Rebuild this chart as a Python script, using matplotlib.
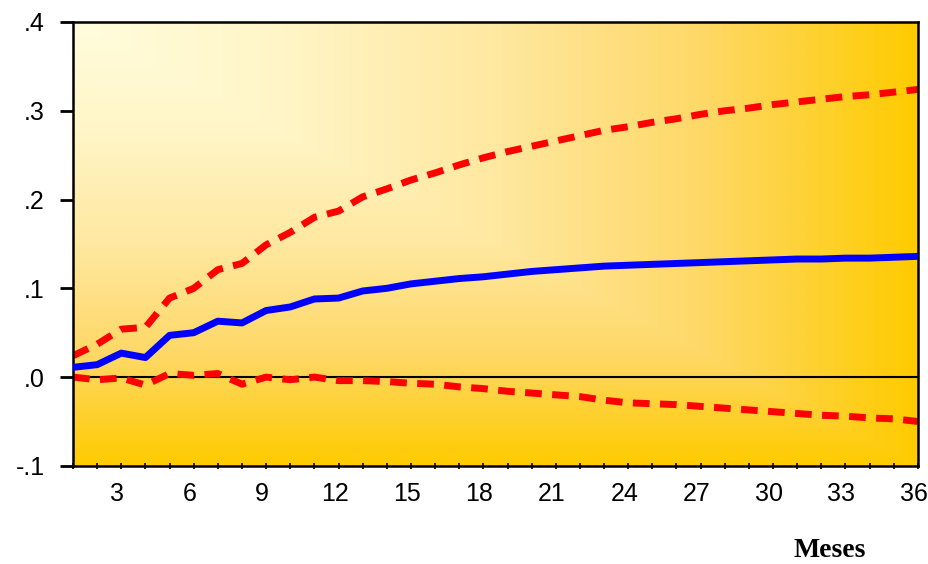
import numpy as np
import matplotlib.pyplot as plt
from matplotlib.colors import LinearSegmentedColormap
from matplotlib.transforms import ScaledTranslation

months = np.arange(1, 37)

response = [0.011, 0.014, 0.027, 0.022, 0.047, 0.050, 0.063, 0.061, 0.075, 0.079,
            0.088, 0.089, 0.097, 0.100, 0.105, 0.108, 0.111, 0.113, 0.116, 0.119,
            0.121, 0.123, 0.125, 0.126, 0.127, 0.128, 0.129, 0.130, 0.131, 0.132,
            0.133, 0.133, 0.134, 0.134, 0.135, 0.136]

upper = [0.024, 0.037, 0.054, 0.056, 0.089, 0.100, 0.121, 0.128, 0.149, 0.163,
         0.180, 0.187, 0.203, 0.212, 0.222, 0.230, 0.239, 0.247, 0.254, 0.260,
         0.266, 0.272, 0.278, 0.282, 0.287, 0.291, 0.296, 0.300, 0.303, 0.307,
         0.310, 0.313, 0.316, 0.318, 0.321, 0.324]

lower = [0.000, -0.003, -0.001, -0.009, 0.004, 0.002, 0.004, -0.008, 0.000, -0.003,
         0.000, -0.004, -0.004, -0.005, -0.007, -0.008, -0.011, -0.013, -0.016, -0.018,
         -0.020, -0.022, -0.026, -0.029, -0.030, -0.031, -0.033, -0.035, -0.037, -0.039,
         -0.041, -0.043, -0.044, -0.046, -0.047, -0.050]

xticks = [3, 6, 9, 12, 15, 18, 21, 24, 27, 30, 33, 36]
yticks = [-0.1, 0.0, 0.1, 0.2, 0.3, 0.4]
ylabels = ['-.1', '.0', '.1', '.2', '.3', '.4']

plt.rcParams['font.family'] = ['Liberation Sans', 'DejaVu Sans']

fig = plt.figure(figsize=(9.29, 5.64), dpi=100)
ax = fig.add_axes([0.0786, 0.174, 0.9094, 0.787])

xmin, xmax, ymin, ymax = 1, 36, -0.1, 0.4

# rectangular cream-to-gold gradient spreading from the upper left corner
gx, gy = np.meshgrid(np.linspace(0, 1, 500), np.linspace(0, 1, 300))
t = np.maximum(gx, 1 - gy)
cmap = LinearSegmentedColormap.from_list(
    'bg', [(0, '#FFFDDD'), (0.25, '#FFF5C6'), (0.5, '#FFE8A0'),
           (0.75, '#FED866'), (1, '#FFCB00')])
ax.imshow(t, cmap=cmap, extent=[xmin, xmax, ymin, ymax], origin='lower',
          aspect='auto', vmin=0, vmax=1, zorder=0)

dash = (0, (2.4, 1.5))
ax.axhline(0, color='black', lw=1.5, zorder=1)
ax.plot(months, upper, color='#FF0000', lw=5, ls=dash, zorder=2)
ax.plot(months, lower, color='#FF0000', lw=5, ls=dash, zorder=2)
ax.plot(months, response, color='#0000FF', lw=5, zorder=3)

ax.set_xlim(xmin, xmax)
ax.set_ylim(ymin, ymax)
ax.set_xticks(xticks)
ax.set_xticks(months, minor=True)
ax.set_yticks(yticks)
ax.set_yticklabels(ylabels)
ax.tick_params(axis='y', direction='out', length=9.5, width=2, labelsize=18, pad=11)
ax.tick_params(axis='x', which='both', direction='inout', length=5, width=1.2,
               labelsize=18, pad=9)
shift = ScaledTranslation(-4 / 100, 0, fig.dpi_scale_trans)
for lab in ax.get_xticklabels():
    lab.set_transform(lab.get_transform() + shift)
for s in ax.spines.values():
    s.set_linewidth(1.8)

fig.text(0.893, 0.013, 'Meses', family='Liberation Serif', weight='bold',
         fontsize=20, ha='center', va='baseline')

fig.savefig('out.png', dpi=100)
